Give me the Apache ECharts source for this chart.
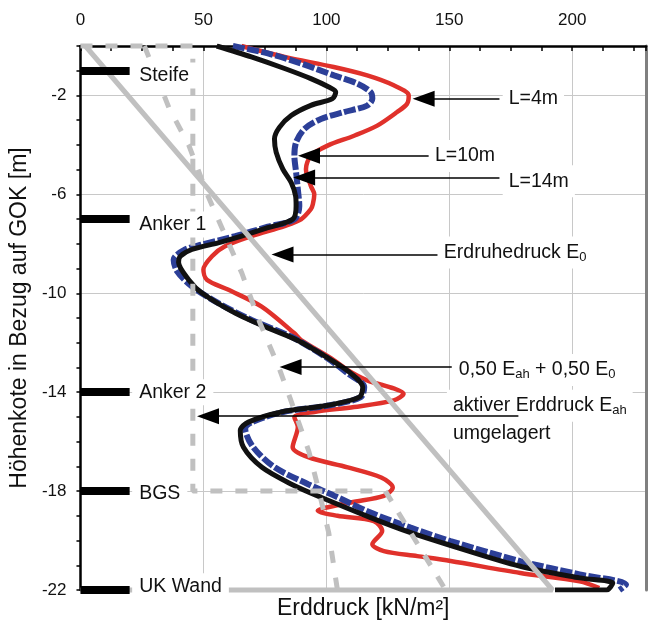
<!DOCTYPE html>
<html><head><meta charset="utf-8">
<script src="https://cdn.jsdelivr.net/npm/echarts@6/dist/echarts.min.js"></script>
<style>html,body{margin:0;padding:0;background:#fff}#c{width:649px;height:632px}</style>
</head><body><div id="c"></div>
<script>
// ---------- data (x = Erddruck kN/m², y = Höhenkote m) ----------
const xTickLabels = [0, 50, 100, 150, 200];
const yTickLabels = [-22, -18, -14, -10, -6, -2];
const seriesNames = ['L=4m', 'L=10m', 'L=14m'];

const curveL4 = [[65.5,0],[83,-0.44],[103,-0.85],[116.6,-1.19],[127.4,-1.59],[133.5,-2.0],[132.8,-2.34],[128.8,-2.67],[120.7,-3.22],[111.3,-3.63],[100.5,-4.03],[93.7,-4.44],[91.7,-4.98],[93.7,-5.66],[95.1,-6.0],[94.5,-6.4],[93.7,-6.6],[89.7,-7.01],[83,-7.28],[69.6,-7.69],[58.8,-8.1],[53.5,-8.5],[50,-9.04],[51.4,-9.45],[60.2,-9.86],[73.7,-10.54],[87,-11.62],[89.7,-11.89],[102,-12.63],[108.7,-13.11],[116.6,-13.52],[127.4,-13.85],[131.4,-14.06],[127.4,-14.33],[111.3,-14.6],[95.1,-14.8],[87,-15.01],[88.4,-15.41],[86.3,-16.23],[92.6,-16.63],[108.7,-17.04],[122.3,-17.45],[127,-17.85],[123.4,-18.19],[110,-18.46],[96.5,-18.8],[104.5,-19.0],[119.3,-19.21],[122.7,-19.61],[118.7,-20.15],[123.4,-20.43],[137,-20.63],[150.5,-20.83],[178.9,-21.31],[203,-21.65],[211,-21.92]];

const curveL10 = [[62,0],[76.2,-0.3],[89.7,-0.71],[103.1,-1.19],[112.6,-1.52],[118,-1.86],[118.7,-2.13],[116.6,-2.41],[107.2,-2.67],[97.8,-2.95],[91.1,-3.35],[87.7,-3.89],[87,-4.44],[87.7,-5.11],[88.4,-5.79],[89,-6.47],[87,-7.01],[76.2,-7.31],[62.9,-7.69],[49.4,-8.03],[42.6,-8.23],[37.9,-8.64],[39.3,-9.11],[45.3,-9.72],[56.1,-10.4],[69.6,-11.08],[85.8,-11.76],[100,-12.6],[108.7,-13.24],[115.4,-13.79],[114,-14.2],[101.5,-14.53],[82.5,-14.8],[70,-15.2],[67,-15.48],[70.3,-16.23],[79,-17.04],[92.6,-17.72],[103.3,-18.19],[118,-18.87],[134.3,-19.48],[150.5,-20.02],[178.9,-20.83],[203,-21.37],[221.9,-21.78],[219.2,-22]];

const curveL14 = [[55.4,0],[69.5,-0.44],[83,-0.91],[93.7,-1.32],[101,-1.66],[103.8,-1.86],[102.5,-2.13],[93.7,-2.4],[85.7,-2.81],[80.9,-3.29],[78.9,-3.76],[79.6,-4.3],[82.3,-4.98],[85.7,-5.52],[87.5,-6.07],[87.7,-6.47],[86.3,-7.01],[76.2,-7.35],[65.5,-7.69],[56,-7.96],[45.3,-8.23],[40.6,-8.5],[39.9,-8.75],[44,-9.45],[49.4,-9.99],[62.9,-10.8],[76.4,-11.41],[88,-11.89],[102,-12.7],[110,-13.24],[114.8,-13.79],[113.4,-14.2],[100.6,-14.53],[81.7,-14.8],[68.3,-15.21],[65,-15.55],[66.3,-16.23],[73.8,-17.04],[85.8,-17.72],[98,-18.26],[118,-19.07],[134.3,-19.68],[149,-20.15],[178.9,-21.04],[203,-21.51],[216.5,-21.72],[214,-22],[193,-22]];

const earthRestE0 = [[2,0],[192,-22],[0,-22]];
const activeEahRedist = [[0,0],[45.7,0],[45.7,-18],[124,-18],[148.5,-22]];
const mixedHalf = [[26,0],[36,-2.5],[44,-4],[52,-6.1],[59.5,-7.8],[65.7,-9.2],[73,-11.2],[80.7,-13],[86,-14.45],[92.9,-16.4],[97,-18],[101,-19.7],[104.5,-22]];

const supportNames = ['Steife', 'Anker 1', 'Anker 2', 'BGS', 'UK Wand'];
const supportDepths = [-1, -7, -14, -18, -22];
const supportLabelDepths = [-1.19, -7.22, -14.0, -18.1, -21.85];
const supportBarLength = 20;
const supportLabelX = 21;

// arrows: [tail x, tip x, depth]
const arrowTails = [170.4, 141.6, 170.4, 145.2, 151, 178.1];
const arrowTips  = [135.1, 88.5, 86.5, 77.7, 81, 47.4];
const arrowDepths = [-2.13, -4.44, -5.32, -8.43, -12.98, -14.97];

// notes: text, anchor x, anchor y
const noteTexts = ['L=4m', 'L=10m', 'L=14m', 'Erdruhedruck E{s|0}', '0,50 E{s|ah} + 0,50 E{s|0}', 'aktiver Erddruck E{s|ah}', 'umgelagert'];
const noteX = [171.7, 141.7, 171.7, 145.3, 151.4, 149, 149];
const noteY = [-2.13, -4.45, -5.47, -8.35, -13.1, -14.55, -15.67];

// ---------- chart ----------
const FONT = "'Liberation Sans', Arial, Helvetica, sans-serif";
const TXT = '#111';
const chart = echarts.init(document.getElementById('c'), null, {renderer: 'canvas'});
const ARROW_LEN = 22, ARROW_W = 16;
const PX_PER_UNIT = 2.47;

const richSub = { s: { fontSize: 13, lineHeight: 12, verticalAlign: 'bottom', fontFamily: FONT, color: TXT } };

const option = {
  animation: false,
  backgroundColor: '#fff',
  textStyle: { fontFamily: FONT },
  grid: { left: 78, right: 3, top: 46, bottom: 42, containLabel: false },
  xAxis: [
    { type: 'value', position: 'top', min: 0, max: 230, interval: 50,
      axisLine: { show: true, onZero: false, lineStyle: { color: '#000', width: 2.5 } },
      axisTick: { show: false },
      axisLabel: { fontSize: 17, color: TXT, margin: 17, fontFamily: FONT, showMaxLabel: false,
        formatter: v => xTickLabels.indexOf(v) >= 0 ? String(v) : '' },
      splitLine: { show: true, showMinLine: false, showMaxLine: false, lineStyle: { color: '#c8c8c8', width: 1 } } },
    { type: 'value', position: 'top', min: 0, max: 230, interval: 12.5,
      axisLine: { show: false }, axisLabel: { show: false }, splitLine: { show: false },
      axisTick: { show: true, inside: true, length: 5, lineStyle: { color: '#000', width: 1.5 } } },
    { type: 'value', position: 'bottom', min: 0, max: 230,
      axisLine: { show: false }, axisTick: { show: false }, axisLabel: { show: false }, splitLine: { show: false },
      name: 'Erddruck [kN/m²]', nameLocation: 'middle', nameGap: 7,
      nameTextStyle: { fontSize: 23, color: TXT, fontFamily: FONT } }
  ],
  yAxis: [
    { type: 'value', min: -22, max: 0, interval: 4,
      axisLine: { show: true, onZero: false, lineStyle: { color: '#000', width: 2.5 } },
      axisTick: { show: false },
      axisLabel: { fontSize: 17, color: TXT, margin: 14, fontFamily: FONT, showMaxLabel: false,
        formatter: v => yTickLabels.indexOf(v) >= 0 ? String(v) : '' },
      splitLine: { show: true, showMinLine: false, showMaxLine: false, lineStyle: { color: '#c8c8c8', width: 1 } },
      name: 'Höhenkote in Bezug auf GOK [m]', nameLocation: 'middle', nameGap: 43, nameRotate: 90,
      nameTextStyle: { fontSize: 23, color: TXT, fontFamily: FONT } },
    { type: 'value', min: -22, max: 0, interval: 1,
      axisLine: { show: false }, axisLabel: { show: false }, splitLine: { show: false },
      axisTick: { show: true, inside: true, length: 4, lineStyle: { color: '#000', width: 1.5 } } },
    { type: 'value', position: 'right', min: -22, max: 0,
      axisLine: { show: true, onZero: false, lineStyle: { color: '#808080', width: 3 } },
      axisTick: { show: false }, axisLabel: { show: false }, splitLine: { show: false } }
  ],
  series: [
    { name: seriesNames[0], type: 'line', data: curveL4, symbol: 'none', smooth: 0.3, z: 2,
      lineStyle: { color: '#e0312b', width: 4.5 } },
    { name: seriesNames[1], type: 'line', data: curveL10, symbol: 'none', smooth: 0.3, z: 3,
      lineStyle: { color: '#2c3f98', width: 6, type: [12, 2.5] } },
    { name: seriesNames[2], type: 'line', data: curveL14, symbol: 'none', smooth: 0.3, z: 4,
      lineStyle: { color: '#111', width: 5 } },
    { name: 'E0', type: 'line', data: earthRestE0, symbol: 'none', clip: false, z: 5,
      lineStyle: { color: '#c0c0c0', width: 5 } },
    { name: 'Eah', type: 'line', data: activeEahRedist, symbol: 'none', clip: false, z: 5,
      lineStyle: { color: '#c0c0c0', width: 5, type: [12, 13] } },
    { name: 'mix', type: 'line', data: mixedHalf, symbol: 'none', clip: false, z: 5,
      lineStyle: { color: '#c0c0c0', width: 5, type: [12, 15] } },
    { name: 'supportLabels', type: 'scatter', silent: true, z: 6, symbolSize: 0.1,
      itemStyle: { color: 'transparent' },
      data: supportNames.map((n, i) => [supportLabelX, supportLabelDepths[i], n]),
      label: { show: true, position: 'right', distance: 0, formatter: p => p.data[2], opacity: 1,
        fontSize: 19.5, color: TXT, fontFamily: FONT, backgroundColor: '#fff', padding: [3, 7] } },
    { name: 'notes', type: 'scatter', silent: true, z: 6, symbolSize: 0.1,
      itemStyle: { color: 'transparent' },
      data: noteTexts.map((t, i) => [noteX[i], noteY[i], t]),
      label: { show: true, position: 'right', distance: 0, formatter: p => p.data[2], opacity: 1,
        fontSize: 19.5, lineHeight: 22, color: TXT, fontFamily: FONT, backgroundColor: '#fff', padding: [5, 6],
        rich: richSub } },
    { name: 'bars', type: 'line', data: [], z: 10, silent: true, clip: false,
      markLine: { z: 10, silent: true, symbol: ['none', 'none'], animation: false, label: { show: false },
        lineStyle: { color: '#000', width: 8, type: 'solid' },
        data: supportDepths.map(d => [{ coord: [0, d] }, { coord: [supportBarLength, d] }]) } },
    { name: 'arrows', type: 'line', data: [], z: 10, silent: true, clip: false,
      markLine: { z: 10, silent: true, symbol: ['none', 'triangle'], symbolSize: [ARROW_W, ARROW_LEN], animation: false,
        label: { show: false },
        lineStyle: { color: '#000', width: 1.6, type: 'solid' },
        data: arrowTails.map((t, i) => [{ coord: [t, arrowDepths[i]] },
          { coord: [arrowTips[i] + ARROW_LEN / 2 / PX_PER_UNIT, arrowDepths[i]] }]) } }
  ]
};
chart.setOption(option);
</script>
</body></html>
